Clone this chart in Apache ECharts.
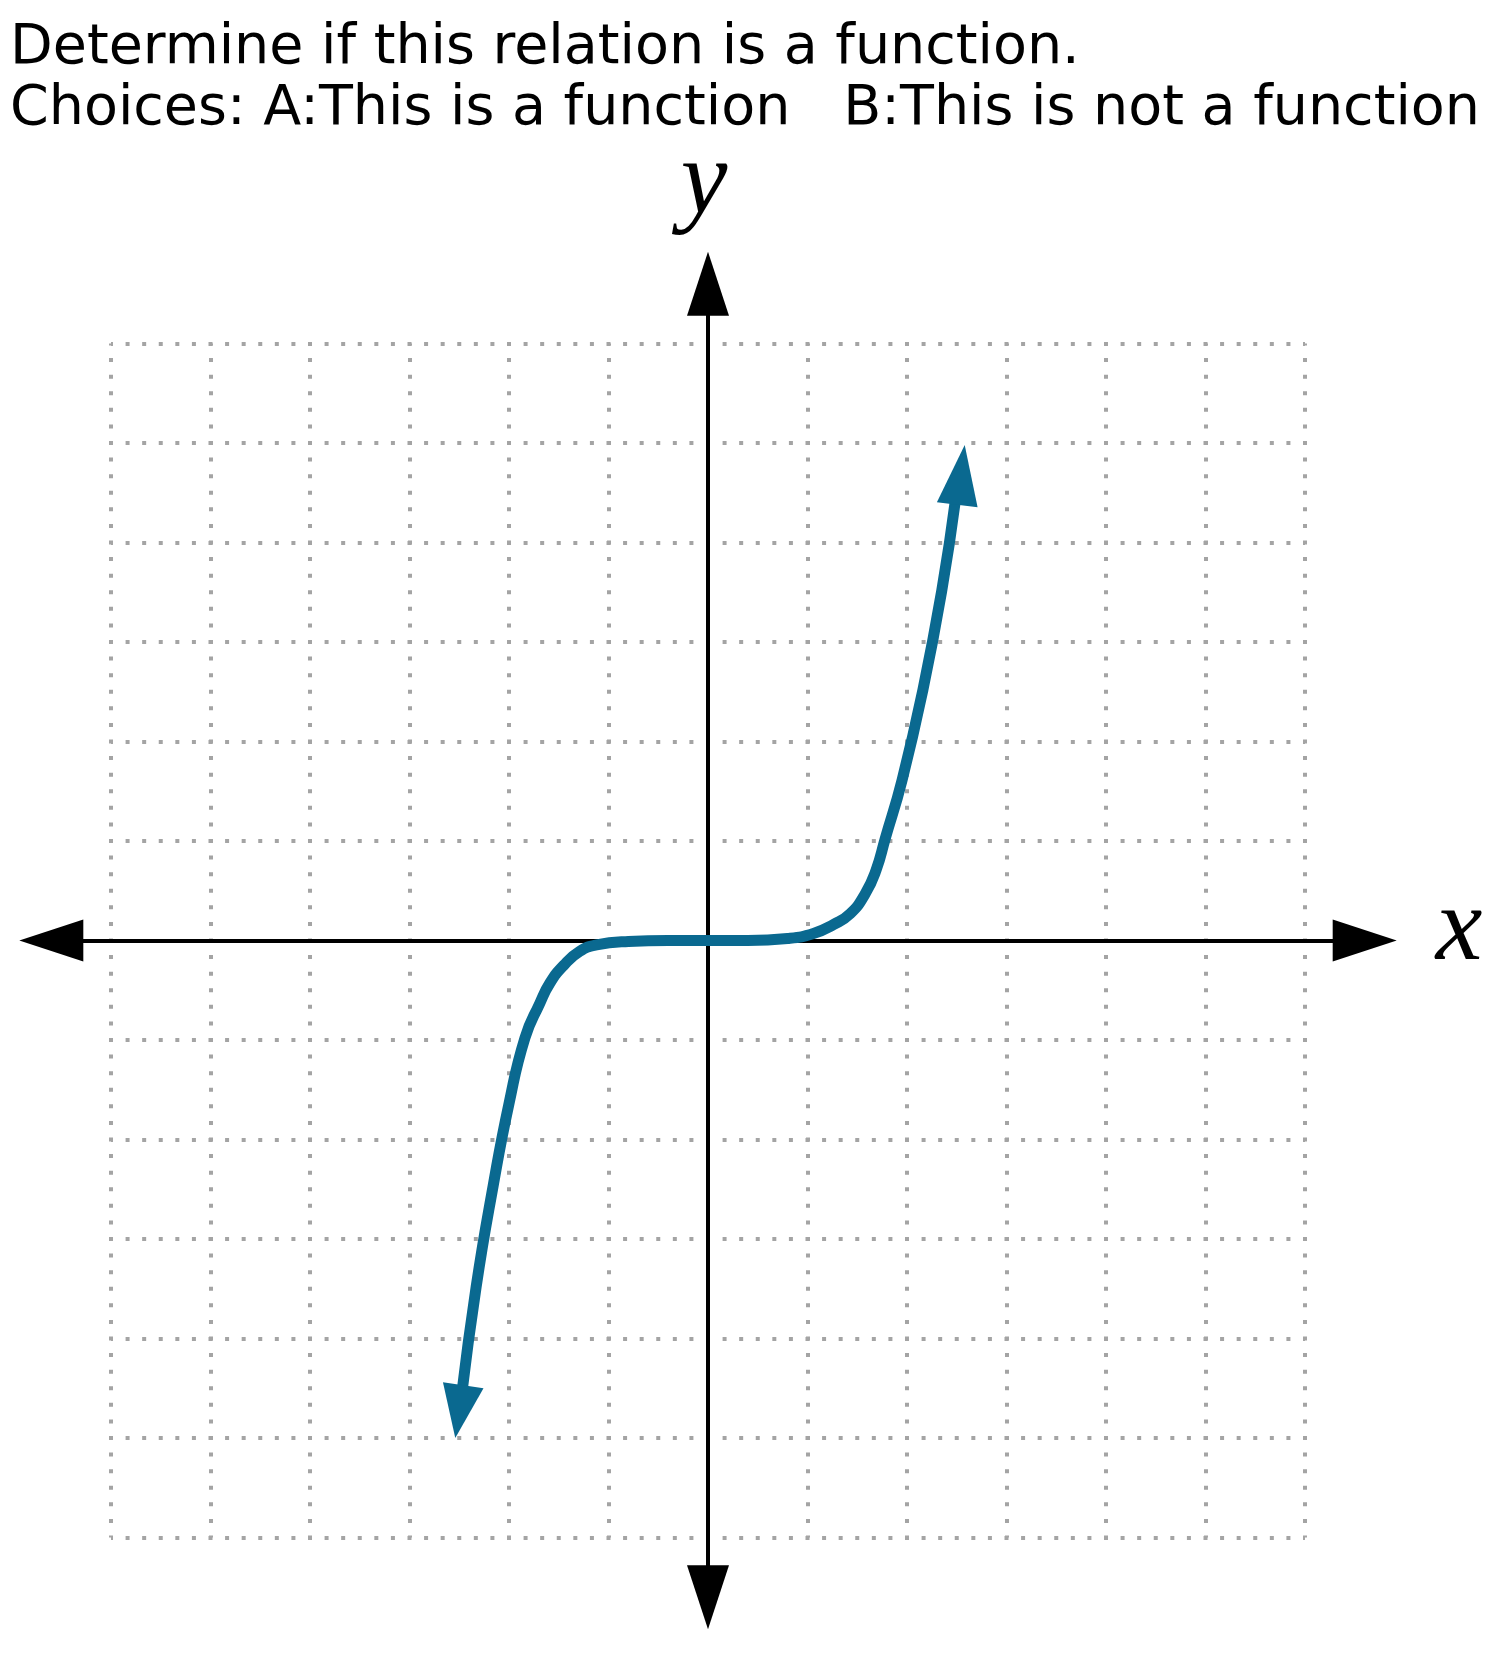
<!DOCTYPE html>
<html><head><meta charset="utf-8">
<script src="https://cdn.jsdelivr.net/npm/echarts@6/dist/echarts.min.js"></script>
<style>html,body{margin:0;padding:0;background:#fff}#c{width:1493px;height:1653px}</style>
</head><body><div id="c"></div>
<script>
// ---- data ----
const titleLines = ['Determine if this relation is a function.', 'Choices: A:This is a function   B:This is not a function'];
const xName = 'x';
const yName = 'y';
const gridMin = -6, gridMax = 6, gridStep = 1;
const axisMin = -6.6, axisMax = 6.6;
const curveX = [-2.48, -2.33, -2.16, -2.00, -1.84, -1.69, -1.59, -1.45, -1.29, -1.12, -0.8, -0.4, 0, 0.4, 0.8, 1.06, 1.26, 1.43, 1.58, 1.69, 1.78, 1.95, 2.16, 2.35, 2.49];
const curveY = [-4.6, -3.48, -2.47, -1.64, -0.98, -0.63, -0.43, -0.25, -0.11, -0.045, -0.01, 0, 0, 0, 0.02, 0.07, 0.16, 0.27, 0.47, 0.71, 1.02, 1.61, 2.52, 3.52, 4.45];
const arrowTipX = [2.58, -2.54];
const arrowTipY = [4.98, -5.0];
const arrowBaseX = [2.505, -2.46];
const arrowBaseY = [4.38, -4.47];

// ---- layout / style ----
const ox = 708, oy = 940.5, unit = 99.5;
const curveColor = '#0a6990';
const arrowWidth = 41;

const chart = echarts.init(document.getElementById('c'));
const gA = {left: ox + gridMin*unit, top: oy - gridMax*unit, width: (gridMax-gridMin)*unit, height: (gridMax-gridMin)*unit};
const gB = {left: ox + axisMin*unit, top: oy - axisMax*unit, width: (axisMax-axisMin)*unit, height: (axisMax-axisMin)*unit};
const dotted = {color: '#a4a4a4', width: 4, type: [4, unit/6 - 4], dashOffset: 2};
const hiddenAxisA = {min: gridMin, max: gridMax, interval: gridStep, axisLine:{show:false}, axisTick:{show:false}, axisLabel:{show:false}, splitLine:{show:true, lineStyle: dotted}};
const axisB = {min: axisMin, max: axisMax, axisTick:{show:false}, axisLabel:{show:false}, splitLine:{show:false},
  axisLine:{show:true, onZero:true, symbol:['triangle','triangle'], symbolSize:[42,64], lineStyle:{color:'#000', width:4}}};

const curveData = curveX.map((x,i)=>[x, curveY[i]]);

const option = {
  animation: false,
  backgroundColor: '#fff',
  grid: [Object.assign({containLabel:false}, gA), Object.assign({containLabel:false}, gB)],
  xAxis: [Object.assign({type:'value', gridIndex:0}, hiddenAxisA), Object.assign({type:'value', gridIndex:1}, axisB)],
  yAxis: [Object.assign({type:'value', gridIndex:0}, hiddenAxisA), Object.assign({type:'value', gridIndex:1}, axisB)],
  graphic: [
    {type:'text', left: 10, top: 21, style:{text: titleLines[0], font: '55.5px "DejaVu Sans"', fill:'#000'}},
    {type:'text', left: 10, top: 82, style:{text: titleLines[1], font: '55.5px "DejaVu Sans"', fill:'#000'}},
    {type:'text', x: 1459, y: 931, style:{text: xName, font: 'italic 105px "Liberation Serif"', fill:'#000', align:'center', verticalAlign:'middle'}},
    {type:'text', x: 704, y: 184, style:{text: yName, font: 'italic 105px "Liberation Serif"', fill:'#000', align:'center', verticalAlign:'middle'}}
  ],
  series: [
    {type:'line', xAxisIndex:0, yAxisIndex:0, data: curveData, smooth: 0.5, showSymbol:false, clip:false,
     lineStyle:{color: curveColor, width: 11, join:'round', cap:'round'}, z: 5},
    {type:'scatter', xAxisIndex:0, yAxisIndex:0, data: [], symbol:'triangle', itemStyle:{color: curveColor, opacity: 1}, z: 6, clip:false}
  ]
};
chart.setOption(option);

const arrowData = arrowTipX.map((tx, i) => {
  const tip = chart.convertToPixel({gridIndex:0}, [tx, arrowTipY[i]]);
  const base = chart.convertToPixel({gridIndex:0}, [arrowBaseX[i], arrowBaseY[i]]);
  const dx = tip[0]-base[0], dy = tip[1]-base[1];
  const len = Math.hypot(dx, dy);
  const rot = Math.atan2(-dx, -dy) * 180 / Math.PI;
  return {value: [(tx + arrowBaseX[i])/2, (arrowTipY[i] + arrowBaseY[i])/2], symbolRotate: rot, symbolSize: [arrowWidth, len]};
});
chart.setOption({series: [{}, {data: arrowData}]});
</script>
</body></html>
